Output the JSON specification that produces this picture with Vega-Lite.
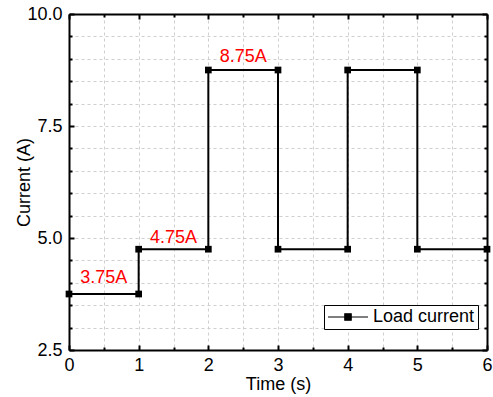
{
  "$schema": "https://vega.github.io/schema/vega-lite/v6.json",
  "autosize": "none",
  "width": 418,
  "height": 336,
  "padding": {"left": 69, "top": 14, "right": 6, "bottom": 47},
  "background": "white",
  "config": {"view": {"stroke": null}, "font": "Liberation Sans"},
  "datasets": {
    "current": [
      {"i": 0, "t": 0, "current": 3.75, "series": "Load current"},
      {"i": 1, "t": 1, "current": 3.75, "series": "Load current"},
      {"i": 2, "t": 1, "current": 4.75, "series": "Load current"},
      {"i": 3, "t": 2, "current": 4.75, "series": "Load current"},
      {"i": 4, "t": 2, "current": 8.75, "series": "Load current"},
      {"i": 5, "t": 3, "current": 8.75, "series": "Load current"},
      {"i": 6, "t": 3, "current": 4.75, "series": "Load current"},
      {"i": 7, "t": 4, "current": 4.75, "series": "Load current"},
      {"i": 8, "t": 4, "current": 8.75, "series": "Load current"},
      {"i": 9, "t": 5, "current": 8.75, "series": "Load current"},
      {"i": 10, "t": 5, "current": 4.75, "series": "Load current"},
      {"i": 11, "t": 6, "current": 4.75, "series": "Load current"}
    ],
    "labels": [
      {"t": 0.5, "current": 4.0, "label": "3.75A"},
      {"t": 1.5, "current": 4.89, "label": "4.75A"},
      {"t": 2.5, "current": 8.93, "label": "8.75A"}
    ]
  },
  "resolve": {"axis": {"x": "independent", "y": "independent"}},
  "layer": [
    {
      "data": {"name": "current"},
      "mark": {"type": "line", "strokeWidth": 2},
      "encoding": {
        "x": {
          "field": "t", "type": "quantitative",
          "scale": {"domain": [0, 6], "nice": false, "zero": false},
          "axis": {
            "orient": "bottom",
            "title": "Time (s)",
            "values": [0, 0.5, 1, 1.5, 2, 2.5, 3, 3.5, 4, 4.5, 5, 5.5, 6],
            "labelExpr": "datum.value % 1 === 0 ? format(datum.value, 'd') : ''",
            "labelFlush": false, "labelOverlap": false,
            "labelFontSize": 18, "labelColor": "black", "labelPadding": 11,
            "tickSize": {"condition": {"test": "datum.value % 1 !== 0", "value": -3}, "value": -5},
            "tickColor": "black", "tickWidth": 2,
            "domainColor": "black", "domainWidth": 2,
            "grid": true, "gridColor": "#cfcfcf", "gridDash": [3, 3], "gridWidth": 1,
            "titleFontSize": 18, "titleFontWeight": "normal", "titleColor": "black", "titlePadding": -1
          }
        },
        "y": {
          "field": "current", "type": "quantitative",
          "scale": {"domain": [2.5, 10], "nice": false, "zero": false},
          "axis": {
            "orient": "left",
            "title": "Current (A)",
            "values": [2.5, 3, 3.5, 4, 4.5, 5, 5.5, 6, 6.5, 7, 7.5, 8, 8.5, 9, 9.5, 10],
            "labelExpr": "datum.value % 2.5 === 0 ? format(datum.value, '.1f') : ''",
            "labelFlush": false, "labelOverlap": false,
            "labelFontSize": 18, "labelColor": "black", "labelPadding": 12,
            "tickSize": {"condition": {"test": "datum.value % 2.5 !== 0", "value": -3}, "value": -5},
            "tickColor": "black", "tickWidth": 2,
            "domainColor": "black", "domainWidth": 2,
            "grid": true, "gridColor": "#cfcfcf", "gridDash": [3, 3], "gridWidth": 1,
            "titleFontSize": 18, "titleFontWeight": "normal", "titleColor": "black", "titlePadding": -7
          }
        },
        "order": {"field": "i", "type": "quantitative"},
        "color": {
          "field": "series", "type": "nominal",
          "scale": {"range": ["black"]},
          "legend": {
            "title": null,
            "orient": "none",
            "legendX": 255,
            "legendY": 291,
            "symbolType": "M-1,0H1M-0.16,-0.16H0.16V0.16H-0.16Z",
            "symbolSize": 1600,
            "symbolFillColor": "black",
            "symbolStrokeColor": "black",
            "symbolStrokeWidth": 1.2,
            "clipHeight": 18,
            "labelFontSize": 18,
            "labelColor": "black",
            "labelOffset": 4,
            "strokeColor": "black",
            "fillColor": "white",
            "padding": 3,
            "cornerRadius": 0
          }
        }
      }
    },
    {
      "data": {"name": "current"},
      "mark": {"type": "point", "shape": "square", "filled": true, "size": 45, "opacity": 1},
      "encoding": {
        "x": {"field": "t", "type": "quantitative", "axis": null},
        "y": {"field": "current", "type": "quantitative", "axis": null},
        "color": {"field": "series", "type": "nominal", "legend": null}
      }
    },
    {
      "data": {"name": "labels"},
      "mark": {"type": "text", "color": "#ff0000", "fontSize": 18, "baseline": "alphabetic", "align": "center"},
      "encoding": {
        "x": {"field": "t", "type": "quantitative", "axis": null},
        "y": {"field": "current", "type": "quantitative", "axis": null},
        "text": {"field": "label"}
      }
    },
    {
      "data": {"name": "current"},
      "mark": {"type": "point", "opacity": 0},
      "encoding": {
        "x": {
          "field": "t", "type": "quantitative",
          "axis": {
            "orient": "top", "title": null, "labels": false, "grid": false,
            "values": [0, 0.5, 1, 1.5, 2, 2.5, 3, 3.5, 4, 4.5, 5, 5.5, 6],
            "tickSize": {"condition": {"test": "datum.value % 1 !== 0", "value": -3}, "value": -5},
            "tickColor": "black", "tickWidth": 2,
            "domainColor": "black", "domainWidth": 2
          }
        },
        "y": {
          "field": "current", "type": "quantitative",
          "axis": {
            "orient": "right", "title": null, "labels": false, "grid": false,
            "values": [2.5, 3, 3.5, 4, 4.5, 5, 5.5, 6, 6.5, 7, 7.5, 8, 8.5, 9, 9.5, 10],
            "tickSize": {"condition": {"test": "datum.value % 2.5 !== 0", "value": -3}, "value": -5},
            "tickColor": "black", "tickWidth": 2,
            "domainColor": "black", "domainWidth": 2
          }
        }
      }
    }
  ]
}
